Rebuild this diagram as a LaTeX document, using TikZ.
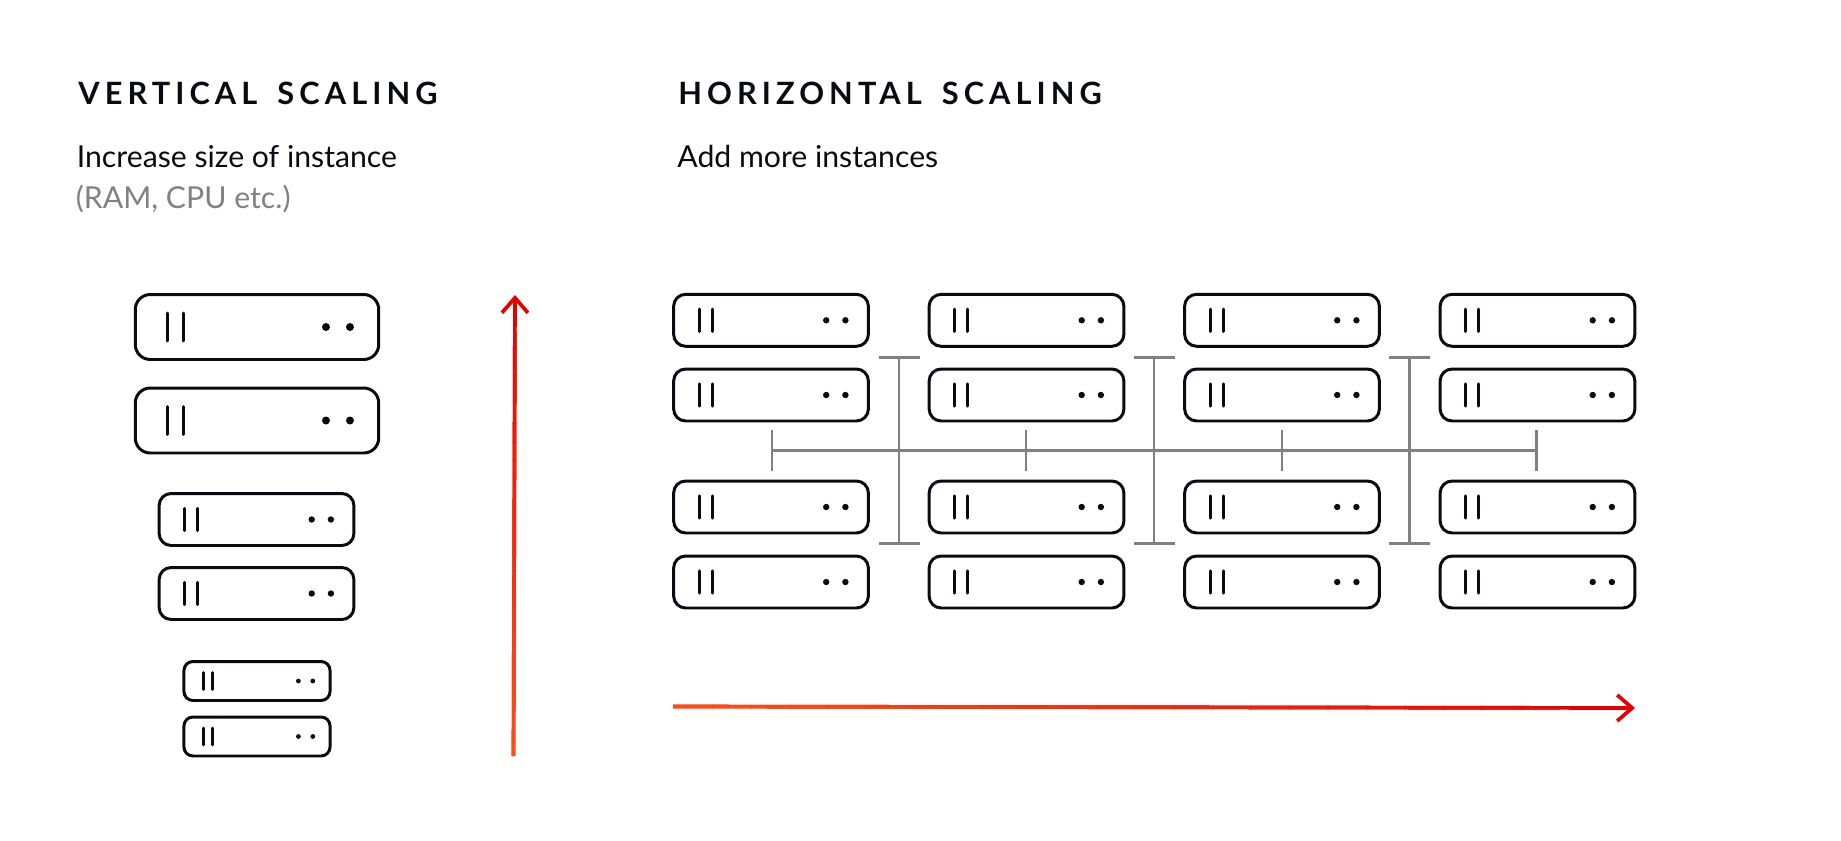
\documentclass[tikz,border=0pt]{standalone}
\usepackage{fontspec}
\setmainfont{Lato}
\newfontfamily\titlefont[LetterSpace=16.5,WordSpace=1.6]{Lato Bold}
\usetikzlibrary{arrows.meta,calc}
\definecolor{inkblack}{HTML}{0A0A14}
\definecolor{busgray}{HTML}{808085}
\definecolor{scalered}{HTML}{E60000}
\definecolor{scaleorange}{HTML}{FF4E12}
\tikzset{
  rackbox/.style={draw=inkblack,line width=1.7pt,inner sep=0pt,outer sep=0pt},
  rackbar/.style={draw=inkblack,line width=1.7pt,line cap=round},
  busline/.style={draw=busgray,line width=1.6pt},
  scalearrow/.style={draw=scalered,line width=2.1pt,-{Straight Barb[length=0.3cm,width=0.52cm]}},
  headline/.style={inner sep=0pt,anchor=base west,font=\titlefont\fontsize{17.5}{20}\selectfont,text=inkblack},
  bodyline/.style={inner sep=0pt,anchor=base west,font=\fontsize{17.2}{20}\selectfont,text=inkblack},
}
% name, x, y, size
\newcommand{\rack}[4]{
  \node[rackbox,minimum width=#4*4.87cm,minimum height=#4*1.3cm,rounded corners=#4*0.3cm] (#1) at (#2,#3) {};
  \begin{scope}[shift={(#1.center)},scale=#4]
    \draw[rackbar] (-89.5,-14) -- (-89.5,14);
    \draw[rackbar] (-73.5,-14) -- (-73.5,14);
    \fill[inkblack] (69,0) circle (4);
    \fill[inkblack] (93,0) circle (4);
  \end{scope}
}
\begin{document}
\begin{tikzpicture}[x=0.02cm,y=-0.02cm]
\useasboundingbox (0,0) rectangle (1841,841);
% titles
\node[headline] (verttitle) at (78,105) {VERTICAL SCALING};
\node[headline] (horitile) at (678,105) {HORIZONTAL SCALING};
\node[bodyline] (vertbody) at (76.5,168) {Increase size of instance};
\node[bodyline,text=busgray] (vertnote) at (75.5,209) {(RAM, CPU etc.)};
\node[bodyline] (horibody) at (677,168) {Add more instances};
% vertical column
\rack{biga}{257}{327}{1}
\rack{bigb}{257}{420.5}{1}
\rack{mida}{256.5}{519.5}{0.8}
\rack{midb}{256.5}{593.5}{0.8}
\rack{lowa}{257}{681}{0.6}
\rack{lowb}{257}{736.5}{0.6}
% horizontal grid
\foreach \col/\x in {1/771,2/1026.5,3/1282,4/1537.5}
  \foreach \row/\y in {1/320.3,2/395,3/507,4/582}
    \rack{srv\col\row}{\x}{\y}{0.8}
% buses
\coordinate (hleft) at (770.5,450.7);
\coordinate (hright) at (1537.5,450.7);
\draw[busline,{Bar[width=0.82cm]}-{Bar[width=0.82cm]}] (hleft) -- (hright);
\foreach \i/\x in {1/1026,2/1282} {
  \coordinate (ticktop\i) at (\x,430);
  \coordinate (tickbot\i) at (\x,471);
  \draw[busline] (ticktop\i) -- (tickbot\i);
}
\foreach \i/\x in {1/899,2/1154,3/1409.5} {
  \coordinate (vtop\i) at (\x,356);
  \coordinate (vbot\i) at (\x,545);
  \draw[busline,{Bar[width=0.82cm]}-{Bar[width=0.82cm]}] (vtop\i) -- (vbot\i);
}
% red arrows
\coordinate (vfoot) at (513.5,756);
\coordinate (vtip) at (515,295);
\coordinate (hfoot) at (673,706.5);
\coordinate (htip) at (1635,708);
\draw[scalearrow] (vfoot) -- (vtip);
\draw[scalearrow] (hfoot) -- (htip);
\foreach \i [evaluate=\i as \pct using 100-\i*4] in {0,...,22} {
  \draw[scaleorange!\pct!scalered,line width=2.1pt] ($(vfoot)!\i*0.04!(vtip)$) -- ($(vfoot)!\i*0.04+0.042!(vtip)$);
  \draw[scaleorange!\pct!scalered,line width=2.1pt] ($(hfoot)!\i*0.04!(htip)$) -- ($(hfoot)!\i*0.04+0.042!(htip)$);
}
\end{tikzpicture}
\end{document}
